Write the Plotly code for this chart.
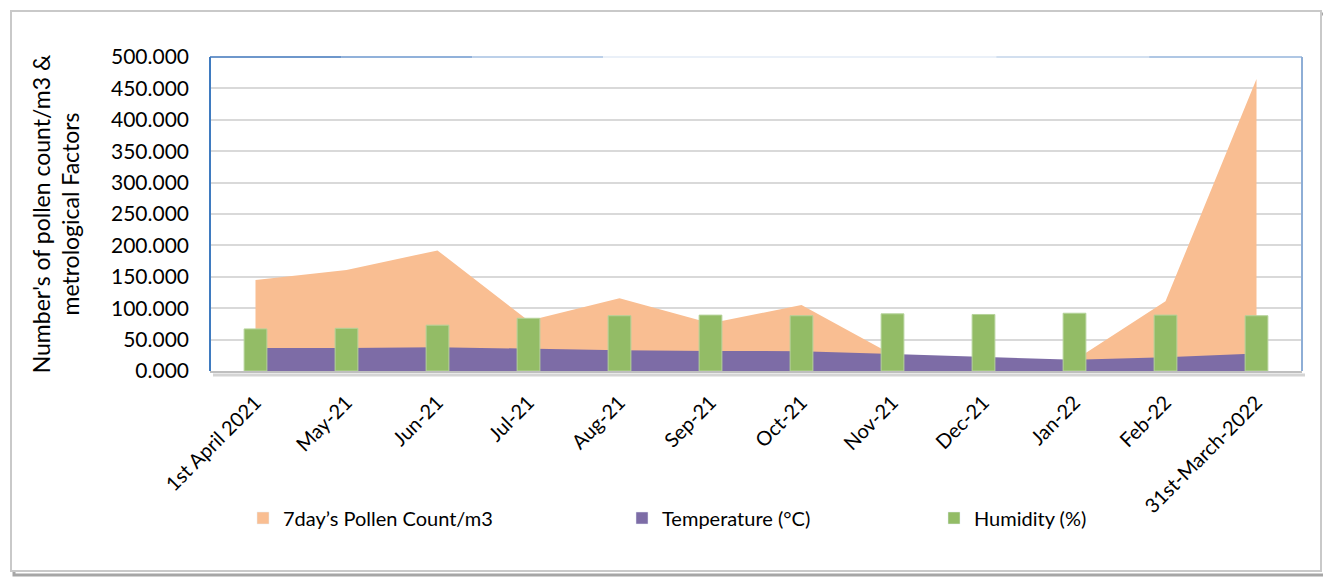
import plotly.graph_objects as go

categories = ["1st April 2021", "May-21", "Jun-21", "Jul-21", "Aug-21", "Sep-21",
              "Oct-21", "Nov-21", "Dec-21", "Jan-22", "Feb-22", "31st-March-2022"]
pollen = [145, 161, 192, 80, 116, 76, 105, 26, 18, 17, 111, 465]
temperature = [36.6, 36.5, 38, 35, 33, 32, 31.5, 27, 22, 18, 22, 28]
humidity = [67, 68, 73, 84, 88, 89, 88, 91, 90, 92, 89, 88]
y_ticks = [0, 50, 100, 150, 200, 250, 300, 350, 400, 450, 500]

C_POLLEN = "#F9BE92"
C_TEMP = "#7D6CA6"
C_HUM = "#93BC66"
FONT = "Lato, Carlito, Calibri, sans-serif"

OFF = 8  # default body margin of the html page
W, H = 1331, 579
L, R, T, B = 210, 1302, 57, 371

def px(x):
    return (x - L) / (R - L)

def py(y):
    return (B - y) / (B - T)

fig = go.Figure()
fig.add_trace(go.Scatter(x=categories, y=pollen, mode="lines", fill="tozeroy",
                         fillcolor=C_POLLEN, line=dict(width=0, color=C_POLLEN),
                         showlegend=False, hoverinfo="y"))
fig.add_trace(go.Scatter(x=categories, y=temperature, mode="lines", fill="tozeroy",
                         fillcolor=C_TEMP, line=dict(width=0, color=C_TEMP),
                         showlegend=False, hoverinfo="y"))
fig.add_trace(go.Bar(x=categories, y=humidity, marker=dict(color=C_HUM, line=dict(color="#B5D39A", width=1)),
                     yaxis="y2", showlegend=False, width=0.25))

# legend entries
fig.add_trace(go.Bar(x=[None], y=[None], name="7day’s Pollen Count/m3", marker_color=C_POLLEN,
                     yaxis="y2", legend="legend"))
fig.add_trace(go.Bar(x=[None], y=[None], name="Temperature (°C)", marker_color=C_TEMP,
                     yaxis="y2", legend="legend2"))
fig.add_trace(go.Bar(x=[None], y=[None], name="Humidity (%)", marker_color=C_HUM,
                     yaxis="y2", legend="legend3"))

leg_common = dict(orientation="h", yanchor="middle", y=py(518), xanchor="left",
                  font=dict(family=FONT, size=20, color="#000000"), bgcolor="rgba(0,0,0,0)")

shapes = [
    # outer frame shadow
    dict(type="rect", xref="paper", yref="paper", x0=px(14), x1=px(1325), y0=py(575), y1=py(14),
         line=dict(color="#A6A6A6", width=3), layer="below"),
    dict(type="rect", xref="paper", yref="paper", x0=px(11), x1=px(1321), y0=py(571), y1=py(11),
         line=dict(color="#C9C9C9", width=2), fillcolor="white", layer="below"),
    # plot area border
    dict(type="line", xref="paper", yref="paper", x0=0, x1=0.12, y0=1, y1=1,
         line=dict(color="#6E97CB", width=2)),
    dict(type="line", xref="paper", yref="paper", x0=0.12, x1=0.24, y0=1, y1=1,
         line=dict(color="#91B1DA", width=2)),
    dict(type="line", xref="paper", yref="paper", x0=0.24, x1=0.36, y0=1, y1=1,
         line=dict(color="#BCD0E9", width=2)),
    dict(type="line", xref="paper", yref="paper", x0=0.36, x1=0.72, y0=1, y1=1,
         line=dict(color="#EAF0F8", width=2)),
    dict(type="line", xref="paper", yref="paper", x0=0.72, x1=0.86, y0=1, y1=1,
         line=dict(color="#D2DFEF", width=2)),
    dict(type="line", xref="paper", yref="paper", x0=0.86, x1=1, y0=1, y1=1,
         line=dict(color="#AFC7E4", width=2)),
    dict(type="line", xref="paper", yref="paper", x0=0, x1=0, y0=0, y1=1,
         line=dict(color="#3F7BC0", width=2)),
    dict(type="line", xref="paper", yref="paper", x0=1, x1=1, y0=0, y1=1,
         line=dict(color="#8EAED6", width=2)),
    dict(type="line", xref="paper", yref="paper", x0=px(213), x1=px(1305), y0=py(375), y1=py(375),
         line=dict(color="#D4D4D4", width=3)),
]

fig.update_layout(
    width=W - OFF, height=H - OFF,
    margin=dict(l=L - OFF, r=W - R, t=T - OFF, b=H - B),
    paper_bgcolor="white", plot_bgcolor="rgba(0,0,0,0)",
    font=dict(family=FONT, size=20, color="#000000"),
    barmode="overlay",
    xaxis=dict(type="category", categoryorder="array", categoryarray=categories,
               tickangle=-45, tickfont=dict(size=20), showgrid=False,
               showline=True, linecolor="#BFBFBF", linewidth=2, ticks="",
               ticklabelstandoff=10,
               range=[-0.5, len(categories) - 0.5]),
    yaxis=dict(range=[0, 500], tickvals=y_ticks, tickformat=".3f",
               showgrid=True, gridcolor="#D9D9D9", gridwidth=2, zeroline=False,
               showline=False, ticks="", ticklen=0, tickfont=dict(size=21),
               ticklabelstandoff=20,
               title=dict(text="Number's of pollen count/m3 &<br>metrological Factors",
                          font=dict(size=23), standoff=24)),
    yaxis2=dict(range=[0, 500], overlaying="y", visible=False),
    legend=dict(**leg_common, x=px(250 - 7)),
    legend2=dict(**leg_common, x=px(631 - 9)),
    legend3=dict(**leg_common, x=px(943 - 9)),
    shapes=shapes,
)

fig.write_html("out.html")
